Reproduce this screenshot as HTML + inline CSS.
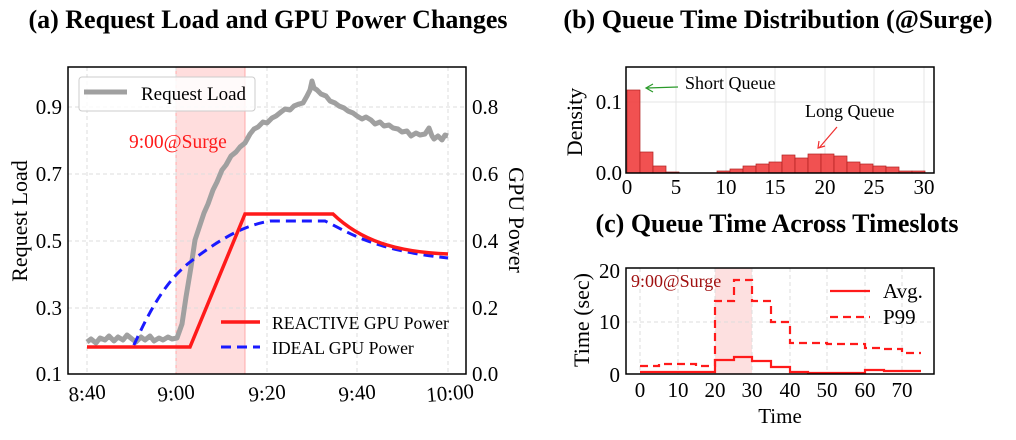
<!DOCTYPE html>
<html><head><meta charset="utf-8"><style>
body{margin:0;background:#fff;}
svg{display:block;font-family:"Liberation Serif",serif;}
.t{font-size:21px;fill:#000;}
.ti{font-size:26px;font-weight:bold;}
.g{stroke:#ddd;stroke-width:1;stroke-dasharray:4,3;}
</style></head><body>
<svg width="1016" height="440" viewBox="0 0 1016 440">
<!-- Titles -->
<text class="ti" x="268" y="28" text-anchor="middle">(a) Request Load and GPU Power Changes</text>
<text class="ti" x="778" y="28" text-anchor="middle">(b) Queue Time Distribution (@Surge)</text>
<text class="ti" x="777" y="232" text-anchor="middle">(c) Queue Time Across Timeslots</text>

<!-- Panel A -->
<rect x="176" y="67" width="69" height="307" fill="#fdd"/>
<line x1="176" y1="67" x2="176" y2="374" stroke="#f99" stroke-width="0.8"/>
<line x1="245" y1="67" x2="245" y2="374" stroke="#f99" stroke-width="0.8"/>
<g class="g">
<line x1="87" y1="67" x2="87" y2="374"/><line x1="176" y1="67" x2="176" y2="374"/><line x1="267" y1="67" x2="267" y2="374"/><line x1="357" y1="67" x2="357" y2="374"/><line x1="448" y1="67" x2="448" y2="374"/>
<line x1="68" y1="107" x2="466" y2="107"/><line x1="68" y1="174" x2="466" y2="174"/><line x1="68" y1="241" x2="466" y2="241"/><line x1="68" y1="308" x2="466" y2="308"/>
</g>
<polyline fill="none" stroke="#a0a0a0" stroke-width="5" stroke-linejoin="round" points="87,342 91,339 96,343 100,338 105,340 109,336 114,341 118,337 123,340 127,335 132,339 136,342 141,337 145,340 150,336 154,341 159,338 163,340 168,337 172,339 177,338 182,324 186,297 191,267 195,240 200,225 204,213 208,204 213,190 217,182 222,170 226,165 231,156 236,152 240,147 245,143 250,134 254,129 258,127 263,122 267,123 272,118 276,116 281,112 285,109 290,110 294,106 299,104 303,103 307,96 310,90 312,81 314,88 317,90 321,94 326,96 330,101 335,103 339,106 344,108 348,111 353,113 357,116 362,119 366,117 371,120 375,124 380,122 384,126 389,125 393,128 398,129 402,132 407,131 411,136 416,133 420,135 425,134 429,128 432,136 434,139 438,136 442,140 445,135 448,136"/>
<path d="M87,347 L133,347 C150,310 165,282 190,262 C215,243 240,226 270,221 L325,221 C345,230 370,250 448,258" fill="none" stroke="#1a1aff" stroke-width="3" stroke-dasharray="10,6"/>
<path d="M87,347 L190,347 L245,214 L333,214 C360,240 395,252 448,254" fill="none" stroke="#ff1a1a" stroke-width="3.5"/>
<rect x="68" y="67" width="398" height="307" fill="none" stroke="#000" stroke-width="1.5"/>
<!-- legend 1 -->
<rect x="79" y="77" width="176" height="34" rx="3" fill="#fff" fill-opacity="0.85" stroke="#ccc"/>
<line x1="84" y1="92" x2="127" y2="92" stroke="#a0a0a0" stroke-width="5"/>
<text x="141" y="100" font-size="19">Request Load</text>
<text x="129" y="148" font-size="19.5" fill="#ff1a1a">9:00@Surge</text>
<line x1="221" y1="322" x2="260" y2="322" stroke="#ff1a1a" stroke-width="3.5"/>
<text x="272" y="329" font-size="17.7">REACTIVE GPU Power</text>
<line x1="221" y1="347" x2="260" y2="347" stroke="#1a1aff" stroke-width="3" stroke-dasharray="10,6"/>
<text x="272" y="354" font-size="17.7">IDEAL GPU Power</text>
<!-- ticks left -->
<g class="t" text-anchor="end">
<text x="62" y="114">0.9</text><text x="62" y="181">0.7</text><text x="62" y="248">0.5</text><text x="62" y="315">0.3</text><text x="62" y="381">0.1</text>
</g>
<g class="t" text-anchor="start">
<text x="472" y="114">0.8</text><text x="472" y="181">0.6</text><text x="472" y="248">0.4</text><text x="472" y="315">0.2</text><text x="472" y="381">0.0</text>
</g>
<g class="t" text-anchor="middle">
<text x="87" y="400" transform="rotate(-5 87 392)">8:40</text>
<text x="176" y="400" transform="rotate(-5 176 392)">9:00</text>
<text x="267" y="400" transform="rotate(-5 267 392)">9:20</text>
<text x="357" y="400" transform="rotate(-5 357 392)">9:40</text>
<text x="450" y="400" transform="rotate(-5 450 392)">10:00</text>
</g>
<text x="0" y="0" font-size="22" text-anchor="middle" transform="translate(27 221) rotate(-90)">Request Load</text>
<text x="0" y="0" font-size="22" text-anchor="middle" transform="translate(509 220) rotate(90)">GPU Power</text>

<!-- Panel B -->
<g stroke="#e4e4e4" stroke-width="1">
<line x1="676" y1="67" x2="676" y2="173"/><line x1="726" y1="67" x2="726" y2="173"/><line x1="775" y1="67" x2="775" y2="173"/><line x1="825" y1="67" x2="825" y2="173"/><line x1="874" y1="67" x2="874" y2="173"/><line x1="924" y1="67" x2="924" y2="173"/>
<line x1="626" y1="102" x2="934" y2="102"/>
</g>
<g fill="#f04848" fill-opacity="0.95" stroke="#b02020" stroke-width="0.7">
<rect x="627" y="90" width="13" height="83"/>
<rect x="640" y="152" width="13" height="21"/>
<rect x="653" y="166" width="13" height="7"/>
<rect x="666" y="172" width="13" height="1"/>
<rect x="717" y="171" width="13" height="2"/>
<rect x="730" y="169" width="13" height="4"/>
<rect x="743" y="166" width="13" height="7"/>
<rect x="756" y="164" width="13" height="9"/>
<rect x="769" y="162" width="13" height="11"/>
<rect x="782" y="155" width="13" height="18"/>
<rect x="795" y="158" width="13" height="15"/>
<rect x="808" y="154" width="13" height="19"/>
<rect x="821" y="154" width="13" height="19"/>
<rect x="834" y="156" width="13" height="17"/>
<rect x="847" y="162" width="13" height="11"/>
<rect x="860" y="164" width="13" height="9"/>
<rect x="873" y="166" width="13" height="7"/>
<rect x="886" y="167" width="13" height="6"/>
<rect x="899" y="171" width="13" height="2"/>
<rect x="912" y="171" width="13" height="2"/>
</g>
<rect x="626" y="67" width="308" height="106" fill="none" stroke="#000" stroke-width="1.5"/>
<text x="685" y="89" font-size="18">Short Queue</text>
<line x1="678" y1="87" x2="647" y2="88" stroke="#2a9a2a" stroke-width="1.2"/>
<path d="M653,84 L646,88 L653,92" fill="none" stroke="#2a9a2a" stroke-width="1.2"/>
<text x="805" y="117" font-size="18">Long Queue</text>
<line x1="837" y1="127" x2="819" y2="148" stroke="#f03030" stroke-width="1.2"/>
<path d="M819,141 L818,148 L825,146" fill="none" stroke="#f03030" stroke-width="1.2"/>
<g class="t" text-anchor="end"><text x="622" y="109">0.1</text><text x="622" y="180">0.0</text></g>
<g class="t" text-anchor="middle">
<text x="627" y="194">0</text><text x="676" y="194">5</text><text x="726" y="194">10</text><text x="775" y="194">15</text><text x="825" y="194">20</text><text x="874" y="194">25</text><text x="924" y="194">30</text>
</g>
<text x="0" y="0" font-size="22" text-anchor="middle" transform="translate(582 122) rotate(-90)">Density</text>

<!-- Panel C -->
<rect x="715" y="268" width="37" height="106" fill="#fde0e0"/>
<g class="g">
<line x1="640" y1="268" x2="640" y2="374"/><line x1="678" y1="268" x2="678" y2="374"/><line x1="715" y1="268" x2="715" y2="374"/><line x1="752" y1="268" x2="752" y2="374"/><line x1="790" y1="268" x2="790" y2="374"/><line x1="827" y1="268" x2="827" y2="374"/><line x1="865" y1="268" x2="865" y2="374"/><line x1="902" y1="268" x2="902" y2="374"/>
<line x1="626" y1="322" x2="934" y2="322"/>
</g>
<path d="M640,366 L659,366 L659,364 L696,364 L696,366 L715,366 L715,301 L734,301 L734,280 L752,280 L752,301 L771,301 L771,322 L790,322 L790,343 L827,343 L827,344 L865,344 L865,348 L884,348 L884,349 L902,349 L902,353 L921,353" fill="none" stroke="#ff1a1a" stroke-width="2.2" stroke-dasharray="8,5"/>
<path d="M640,372 L715,372 L715,360 L734,360 L734,357 L752,357 L752,361 L771,361 L771,367 L790,367 L790,372 L808,372 L808,373 L865,373 L865,370 L884,370 L884,371 L921,371" fill="none" stroke="#ff1a1a" stroke-width="2.2"/>
<rect x="626" y="268" width="308" height="106" fill="none" stroke="#000" stroke-width="1.5"/>
<text x="631" y="287" font-size="18" fill="#a01010">9:00@Surge</text>
<line x1="830" y1="291" x2="870" y2="291" stroke="#ff1a1a" stroke-width="2.2"/>
<text class="t" x="883" y="298">Avg.</text>
<line x1="830" y1="317" x2="870" y2="317" stroke="#ff1a1a" stroke-width="2.2" stroke-dasharray="8,5"/>
<text class="t" x="883" y="324">P99</text>
<g class="t" text-anchor="end"><text x="620" y="278">20</text><text x="620" y="329">10</text><text x="620" y="382">0</text></g>
<g class="t" text-anchor="middle">
<text x="640" y="397">0</text><text x="678" y="397">10</text><text x="715" y="397">20</text><text x="752" y="397">30</text><text x="790" y="397">40</text><text x="827" y="397">50</text><text x="865" y="397">60</text><text x="902" y="397">70</text>
</g>
<text x="780" y="423" font-size="21" text-anchor="middle">Time</text>
<text x="0" y="0" font-size="22" text-anchor="middle" transform="translate(589 320) rotate(-90)">Time (sec)</text>
</svg>
</body></html>
